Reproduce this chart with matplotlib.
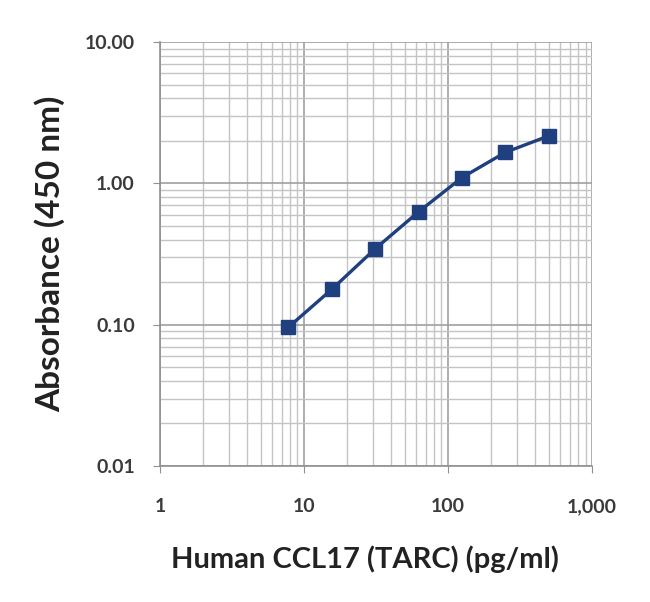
import matplotlib.pyplot as plt
from matplotlib.ticker import FixedLocator, FixedFormatter, LogLocator, NullFormatter

# standard curve data
conc = [7.8, 15.6, 31.25, 62.5, 125, 250, 500]
absorb = [0.096, 0.178, 0.345, 0.63, 1.10, 1.66, 2.17]

x_ticks = [1, 10, 100, 1000]
x_labels = ['1', '10', '100', '1,000']
y_ticks = [0.01, 0.1, 1, 10]
y_labels = ['0.01', '0.10', '1.00', '10.00']

plt.rcParams['font.family'] = ['Lato', 'DejaVu Sans']

fig = plt.figure(figsize=(6.5, 6.02), dpi=100)
ax = fig.add_axes([0.246, 0.226, 0.665, 0.704])
ax.set_xscale('log')
ax.set_yscale('log')
ax.set_xlim(1, 1000)
ax.set_ylim(0.01, 10)

ax.xaxis.set_major_locator(FixedLocator(x_ticks))
ax.xaxis.set_major_formatter(FixedFormatter(x_labels))
ax.yaxis.set_major_locator(FixedLocator(y_ticks))
ax.yaxis.set_major_formatter(FixedFormatter(y_labels))
ax.xaxis.set_minor_locator(LogLocator(base=10, subs=range(2, 10)))
ax.yaxis.set_minor_locator(LogLocator(base=10, subs=range(2, 10)))
ax.xaxis.set_minor_formatter(NullFormatter())
ax.yaxis.set_minor_formatter(NullFormatter())

ax.grid(which='major', color='#a0a0a0', linewidth=1.2)
ax.grid(which='minor', color='#c4c4c4', linewidth=1.0)
ax.set_axisbelow(True)

for side in ['top', 'right']:
    ax.spines[side].set_visible(False)
for side in ['left', 'bottom']:
    ax.spines[side].set_color('#909090')
    ax.spines[side].set_linewidth(1.2)

ax.tick_params(which='major', length=5, color='#909090', labelsize=14)
ax.tick_params(axis='x', which='major', pad=18)
ax.tick_params(axis='y', which='major', pad=13)
ax.tick_params(which='minor', length=0)
for lab in ax.get_xticklabels() + ax.get_yticklabels():
    lab.set_fontweight('bold')
    lab.set_color('#3a3a3a')

ax.plot(conc, absorb, color='#1f3f7f', linewidth=2.4, marker='s',
        markersize=10, markerfacecolor='#1f3f7f', markeredgecolor='#1f3f7f')

ax.set_xlabel('Human CCL17 (TARC) (pg/ml)', fontsize=21, fontweight='bold',
              color='#222222')
ax.xaxis.set_label_coords(0.475, -0.188)
ax.set_ylabel('Absorbance (450 nm)', fontsize=24, fontweight='bold',
              color='#222222', labelpad=14)

fig.savefig('out.png', dpi=100)
